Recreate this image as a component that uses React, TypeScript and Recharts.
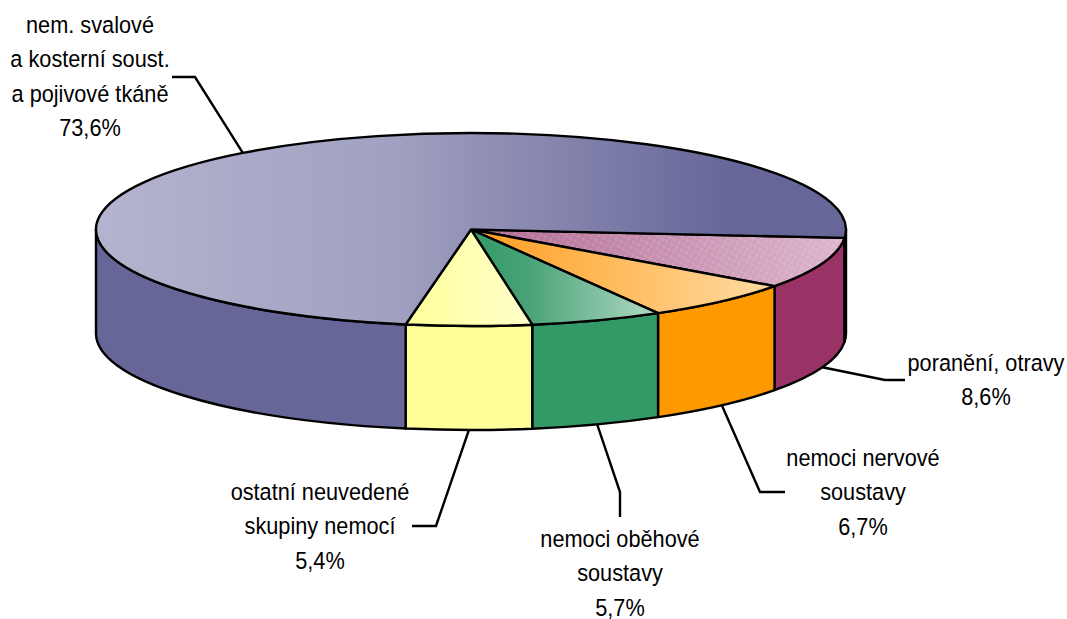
import React from 'react';
import { PieChart, Pie } from 'recharts';

const categories = [
  'poranění, otravy',
  'nemoci nervové soustavy',
  'nemoci oběhové soustavy',
  'ostatní neuvedené skupiny nemocí',
  'nem. svalové a kosterní soust. a pojivové tkáně',
];
const shares = [8.6, 6.7, 5.7, 5.4, 73.6];
const shareLabels = ['8,6%', '6,7%', '5,7%', '5,4%', '73,6%'];
const labelLines = [
  ['poranění, otravy'],
  ['nemoci nervové', 'soustavy'],
  ['nemoci oběhové', 'soustavy'],
  ['ostatní neuvedené', 'skupiny nemocí'],
  ['nem. svalové', 'a kosterní soust.', 'a pojivové tkáně'],
];

// tilt of the pie
const RX = 375;
const RY = 96.5;
const DEPTH = 104;
const CX = 471;
const CY = 229.5;
const LINE = 2.4;

const wallColors = ['#993366', '#FF9900', '#339966', '#FFFF99', '#666699'];
const topFills = ['url(#topPink)', 'url(#topOrange)', 'url(#topGreen)', 'url(#topYellow)', 'url(#topBlue)'];

// where each label text sits and how its leader line bends
const labelLayout = [
  { x: 986, y: 371, elbow: [[885, 380], [905, 380]], onTop: false },
  { x: 863, y: 466, elbow: [[760, 492], [785, 492]], onTop: false },
  { x: 620, y: 547, elbow: [[620, 492], [620, 517]], onTop: false },
  { x: 320, y: 500, elbow: [[436, 526], [412, 526]], onTop: false },
  { x: 90, y: 33, elbow: [[195, 77], [172, 77]], onTop: true },
];

const chartData = categories.map((name, i) => ({ name, value: shares[i] }));

const px = (cx: number, a: number) => cx + RX * Math.cos((a * Math.PI) / 180);
const py = (cy: number, a: number) => cy - RY * Math.sin((a * Math.PI) / 180);

const TopSlice = (props: any) => {
  const { cx, cy, startAngle, endAngle, index } = props;
  const large = Math.abs(endAngle - startAngle) > 180 ? 1 : 0;
  const d = `M${cx},${cy} L${px(cx, startAngle)},${py(cy, startAngle)} A${RX},${RY} 0 ${large} 1 ${px(cx, endAngle)},${py(cy, endAngle)} Z`;
  return (
    <g>
      <path d={d} fill={topFills[index]} />
      {index === 0 && <path d={d} fill="url(#pinkWeave)" />}
      <path d={d} fill="none" stroke="#000" strokeWidth={LINE} strokeLinejoin="round" />
    </g>
  );
};

// side wall, only the part of a slice on the front half of the rim shows
const WallSlice = (props: any) => {
  const { cx, cy, startAngle, endAngle, index } = props;
  const parts: number[][] = [];
  [[0, -180], [-360, -540]].forEach(([hi, lo]) => {
    const a = Math.min(startAngle, hi);
    const b = Math.max(endAngle, lo);
    if (a > b) parts.push([a, b]);
  });
  return (
    <g>
      {parts.map(([a, b], k) => (
        <path
          key={k}
          d={`M${px(cx, a)},${py(cy, a)} A${RX},${RY} 0 0 1 ${px(cx, b)},${py(cy, b)} L${px(cx, b)},${py(cy, b) + DEPTH} A${RX},${RY} 0 0 0 ${px(cx, a)},${py(cy, a) + DEPTH} Z`}
          fill={wallColors[index]}
          stroke="#000"
          strokeWidth={LINE}
          strokeLinejoin="round"
        />
      ))}
    </g>
  );
};

const SliceLabel = (props: any) => {
  const { cx, cy, midAngle, index } = props;
  const layout = labelLayout[index];
  const startX = px(cx, midAngle);
  const startY = py(cy, midAngle) + (layout.onTop ? 0 : DEPTH);
  const pts = [[startX, startY], ...layout.elbow].map((p) => p.join(',')).join(' ');
  const lines = [...labelLines[index], shareLabels[index]];
  return (
    <g>
      <polyline points={pts} fill="none" stroke="#000" strokeWidth={LINE} />
      {/* the original font is a narrow Arial, so squeeze Liberation Sans */}
      <text
        transform={`translate(${layout.x},0) scale(0.887,1)`}
        textAnchor="middle"
        fontFamily="'Liberation Sans', Arial, sans-serif"
        fontSize={24.5}
        fill="#000"
      >
        {lines.map((line, i) => (
          <tspan key={i} x={0} y={layout.y + i * 34.3}>
            {line}
          </tspan>
        ))}
      </text>
    </g>
  );
};

export default function App() {
  return (
    <div style={{ position: 'absolute', left: 0, top: 0, width: 1067, height: 619, background: '#fff' }}>
      <PieChart width={1067} height={619} margin={{ top: 0, right: 0, bottom: 0, left: 0 }}>
        <defs>
          <linearGradient id="topBlue" x1="0" y1="0" x2="1" y2="0">
            <stop offset="0" stopColor="#B4B4D0" />
            <stop offset="0.4" stopColor="#A0A0C0" />
            <stop offset="0.85" stopColor="#666699" />
            <stop offset="1" stopColor="#666699" />
          </linearGradient>
          <linearGradient id="topOrange" x1="0" y1="0" x2="1" y2="0">
            <stop offset="0" stopColor="#FF9D20" />
            <stop offset="1" stopColor="#FFDCA3" />
          </linearGradient>
          <linearGradient id="topGreen" x1="0" y1="0" x2="1" y2="0">
            <stop offset="0" stopColor="#339966" />
            <stop offset="0.3" stopColor="#48A277" />
            <stop offset="1" stopColor="#B2DAC4" />
          </linearGradient>
          <linearGradient id="topYellow" x1="0" y1="0" x2="1" y2="0">
            <stop offset="0" stopColor="#FFFF99" />
            <stop offset="1" stopColor="#FFFFCC" />
          </linearGradient>
          <linearGradient id="topPink" x1="0" y1="0" x2="1" y2="0">
            <stop offset="0" stopColor="#B06A92" />
            <stop offset="1" stopColor="#DDB6CC" />
          </linearGradient>
          <pattern id="pinkWeave" width="8" height="8" patternUnits="userSpaceOnUse" patternTransform="rotate(-15)">
            <rect x="0" y="0" width="3" height="4" fill="#fff" fillOpacity={0.1} />
            <rect x="4" y="4" width="3" height="4" fill="#fff" fillOpacity={0.1} />
          </pattern>
        </defs>
        <Pie
          data={chartData}
          dataKey="value"
          nameKey="name"
          cx={CX}
          cy={CY}
          outerRadius={RX}
          startAngle={-5}
          endAngle={-365}
          shape={WallSlice}
          isAnimationActive={false}
          legendType="none"
        />
        <Pie
          data={chartData}
          dataKey="value"
          nameKey="name"
          cx={CX}
          cy={CY}
          outerRadius={RX}
          startAngle={-5}
          endAngle={-365}
          shape={TopSlice}
          label={SliceLabel}
          labelLine={false}
          isAnimationActive={false}
          legendType="none"
        />
      </PieChart>
    </div>
  );
}
